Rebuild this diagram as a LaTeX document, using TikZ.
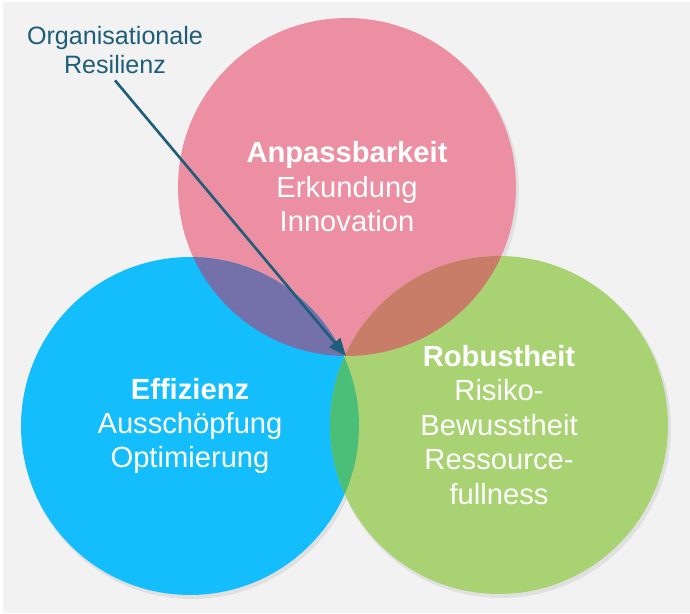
\documentclass[tikz,border=0pt]{standalone}
\usepackage{fontspec}
\setmainfont{Liberation Sans}
\usetikzlibrary{positioning,arrows.meta}
\definecolor{pinkc}{HTML}{EC8FA3}
\definecolor{bluec}{HTML}{14BEFC}
\definecolor{greenc}{HTML}{A9D372}
\definecolor{purplec}{HTML}{7370AA}
\definecolor{brownc}{HTML}{C87D69}
\definecolor{lensc}{HTML}{4BBE78}
\definecolor{tealc}{HTML}{1E5E78}
\definecolor{bgc}{HTML}{F2F2F2}

\begin{document}
\begin{tikzpicture}[
    x=0.02cm, y=-0.02cm,
    circ/.style={circle, minimum size=6.76cm, inner sep=0pt},
    lbl/.style={text=white, align=center, font=\fontsize{16.6pt}{19.6pt}\selectfont},
    shd/.style={black, opacity=0.07},
  ]
    \useasboundingbox (0,0) rectangle (690,614);
    \fill[bgc] (3,2) rectangle (690,613);

    % soft shadows
    \fill[shd] (349,190) circle (3.40cm);
    \fill[shd] (192,429) circle (3.40cm);
    \fill[shd] (501,428) circle (3.40cm);

    \node[circ, fill=pinkc]  (anp) at (347,187) {};
    \node[circ, fill=bluec]  (eff) at (190,426) {};
    \node[circ, fill=greenc] (rob) at (499,425) {};

    % overlaps
    \begin{scope}
      \clip (anp.center) circle (3.38cm);
      \fill[purplec] (eff.center) circle (3.38cm);
      \fill[brownc] (rob.center) circle (3.38cm);
    \end{scope}
    \begin{scope}
      \clip (eff.center) circle (3.38cm);
      \fill[lensc] (rob.center) circle (3.38cm);
    \end{scope}

    \node[lbl] (anpT) at (anp.center) {\textbf{Anpassbarkeit}\\Erkundung\\Innovation};
    \node[lbl] (effT) at (eff.center) {\textbf{Effizienz}\\Ausschöpfung\\Optimierung};
    \node[lbl] (robT) at (rob.center) {\textbf{Robustheit}\\Risiko-\\Bewusstheit\\Ressource-\\fullness};

    \coordinate (mid) at (346,356);
    \node[text=tealc, align=center, font=\fontsize{14.3pt}{17pt}\selectfont] (res) at (115,50) {Organisationale\\Resilienz};
    \draw[-{Triangle[length=10pt, width=8pt]}, tealc, line width=1.5pt] (res.south) -- (mid);
\end{tikzpicture}
\end{document}
